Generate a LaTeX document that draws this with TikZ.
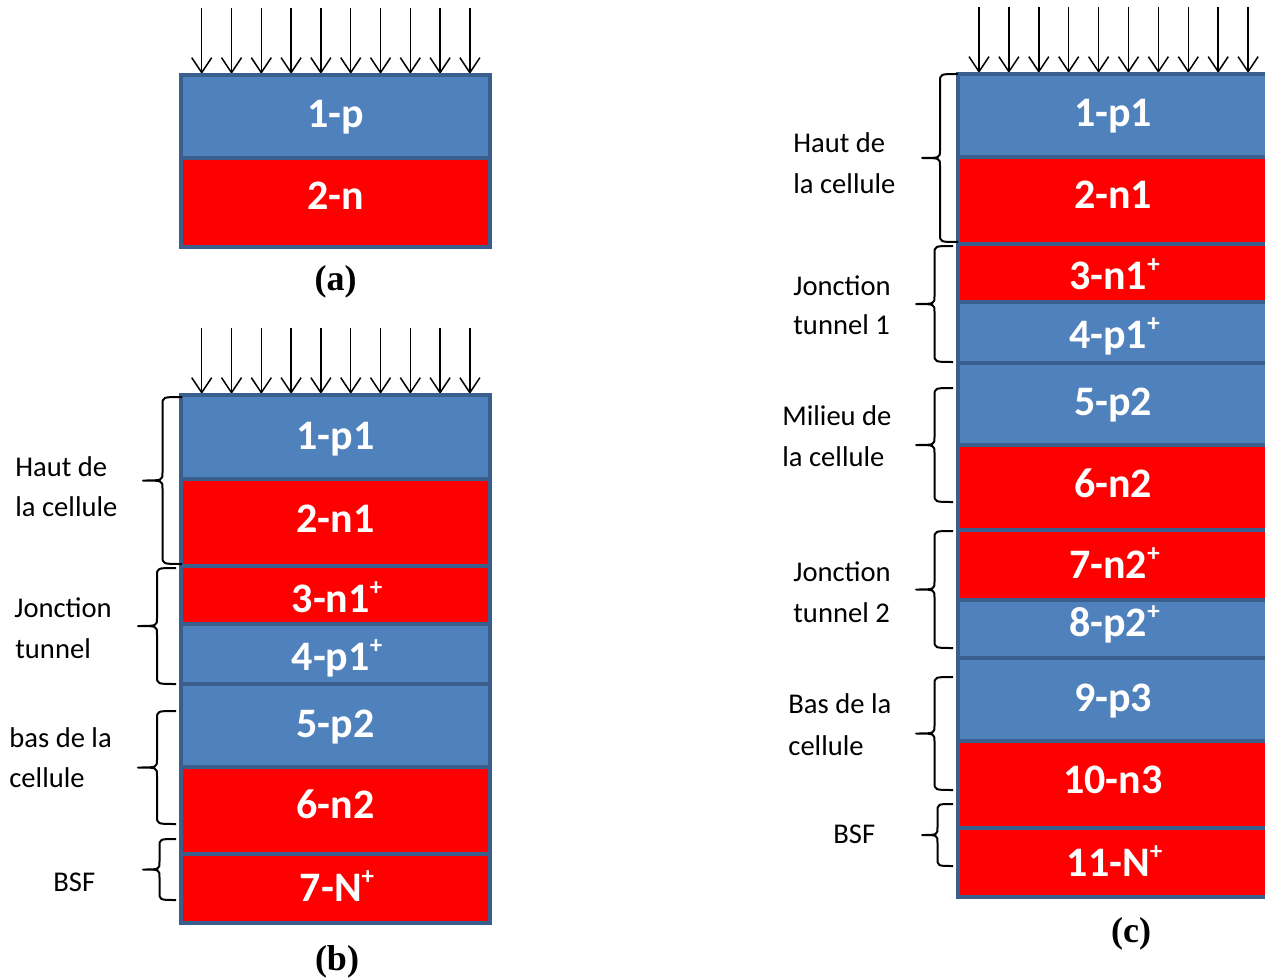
\documentclass[tikz,border=0pt]{standalone}
\usepackage{fontspec}
\setmainfont{Carlito}
\newfontfamily\capfont{Liberation Serif}
\usetikzlibrary{arrows.meta}
\definecolor{pblue}{HTML}{4F81BD}
\definecolor{nred}{HTML}{FF0000}
\definecolor{bord}{HTML}{3A5F8C}
\tikzset{
  pl/.style={fill=pblue, draw=bord, line width=2pt},
  nl/.style={fill=nred, draw=bord, line width=2pt},
  lay/.style={anchor=base, text=white, inner sep=0pt, font=\fontsize{21}{24}\selectfont\bfseries},
  lab/.style={anchor=base west, inner sep=0pt, font=\fontsize{14.3}{16}\selectfont},
  captxt/.style={anchor=base, inner sep=0pt, font=\fontsize{18}{20}\selectfont\capfont\bfseries},
  ray/.style={-{Straight Barb[length=7.5pt,width=10pt]}, line width=0.75pt},
  brcline/.style={line width=1pt, line join=round}
}
\newcommand\plussup{\raisebox{8.5pt}{\fontsize{12.5}{12.5}\selectfont\bfseries +}}
% #1 x of open ends, #2 x of cusp, #3 top y, #4 bottom y
\newcommand\drawbrace[4]{%
  \pgfmathsetmacro\bxv{(#1+#2)/2}%
  \pgfmathsetmacro\bym{(#3+#4)/2}%
  \draw[brcline] (#1,#3) .. controls (\bxv,#3) .. (\bxv,#3+8)
    -- (\bxv,\bym-8) .. controls (\bxv,\bym) .. (#2,\bym)
    .. controls (\bxv,\bym) .. (\bxv,\bym+8)
    -- (\bxv,#4-8) .. controls (\bxv,#4) .. (#1,#4);%
}
\begin{document}
\begin{tikzpicture}[x=0.5pt,y=-0.5pt]
\clip (0,0) rectangle (1265,979);

% ---------- (a) ----------
\foreach \i in {0,...,9} \draw[ray] ({201.7+29.8*\i},8) -- ({201.7+29.8*\i},74);
\draw[pl] (181,75) rectangle (490,158);
\draw[nl] (181,158) rectangle (490,247);
\node[lay] (a1) at (335.5,128) {1-p};
\node[lay] (a2) at (335.5,210) {2-n};
\node[captxt] (ca) at (335.5,290) {(a)};

% ---------- (b) ----------
\foreach \i in {0,...,9} \draw[ray] ({201.7+29.8*\i},328) -- ({201.7+29.8*\i},394);
\draw[pl] (181,395) rectangle (490,479);
\draw[nl] (181,479) rectangle (490,566);
\draw[nl] (181,566) rectangle (490,624);
\draw[pl] (181,624) rectangle (490,684);
\draw[pl] (181,684) rectangle (490,767);
\draw[nl] (181,767) rectangle (490,854);
\draw[nl] (181,854) rectangle (490,923);
\node[lay] (b1) at (335.5,449) {1-p1};
\node[lay] (b2) at (335.5,532) {2-n1};
\node[lay] (b3) at (337,612) {3-n1\plussup};
\node[lay] (b4) at (337,670) {4-p1\plussup};
\node[lay] (b5) at (335.5,737) {5-p2};
\node[lay] (b6) at (335.5,818) {6-n2};
\node[lay] (b7) at (337,901) {7-N\plussup};
\node[captxt] (cb) at (337,970) {(b)};

\drawbrace{182}{143}{397}{564}
\drawbrace{176}{138}{568}{684}
\drawbrace{176}{138}{711}{824}
\drawbrace{176}{143}{839}{900}
\node[lab] (lb1) at (15,476) {Haut de};
\node[lab] (lb2) at (15,516) {la cellule};
\node[lab] (lb3) at (14,617) {Jonction};
\node[lab] (lb4) at (15,658) {tunnel};
\node[lab] (lb5) at (9,747) {bas de la};
\node[lab] (lb6) at (9,787) {cellule};
\node[lab] (lb7) at (53,891) {BSF};

% ---------- (c) ----------
\foreach \i in {0,...,9} \draw[ray] ({979+29.9*\i},7) -- ({979+29.9*\i},73);
\draw[pl] (958,74) rectangle (1268,157);
\draw[nl] (958,157) rectangle (1268,244);
\draw[nl] (958,244) rectangle (1268,302);
\draw[pl] (958,302) rectangle (1268,363);
\draw[pl] (958,363) rectangle (1268,445);
\draw[nl] (958,445) rectangle (1268,530);
\draw[nl] (958,530) rectangle (1268,600);
\draw[pl] (958,600) rectangle (1268,658);
\draw[pl] (958,658) rectangle (1268,741);
\draw[nl] (958,741) rectangle (1268,828);
\draw[nl] (958,828) rectangle (1268,897);
\node[lay] (c1) at (1113,127) {1-p1};
\node[lay] (c2) at (1113,208) {2-n1};
\node[lay] (c3) at (1114.5,289) {3-n1\plussup};
\node[lay] (c4) at (1114.5,348) {4-p1\plussup};
\node[lay] (c5) at (1113,415) {5-p2};
\node[lay] (c6) at (1113,497) {6-n2};
\node[lay] (c7) at (1114.5,578) {7-n2\plussup};
\node[lay] (c8) at (1114.5,636) {8-p2\plussup};
\node[lay] (c9) at (1113,711) {9-p3};
\node[lay] (c10) at (1113,793) {10-n3};
\node[lay] (c11) at (1114.5,876) {11-N\plussup};
\node[captxt] (cc) at (1131,942) {(c)};

\drawbrace{958}{922}{74}{242}
\drawbrace{953}{916}{246}{362}
\drawbrace{953}{916}{388}{502}
\drawbrace{953}{916}{531}{648}
\drawbrace{953}{916}{677}{790}
\drawbrace{953}{922}{804}{866}
\node[lab] (lc1) at (793,153) {Haut de};
\node[lab] (lc2) at (793,193) {la cellule};
\node[lab] (lc3) at (793,295) {Jonction};
\node[lab] (lc4) at (793,335) {tunnel 1};
\node[lab] (lc5) at (782,425) {Milieu de};
\node[lab] (lc6) at (782,466) {la cellule};
\node[lab] (lc7) at (793,581) {Jonction};
\node[lab] (lc8) at (793,622) {tunnel 2};
\node[lab] (lc9) at (788,713) {Bas de la};
\node[lab] (lc10) at (788,755) {cellule};
\node[lab] (lc11) at (833,843) {BSF};
\end{tikzpicture}
\end{document}
